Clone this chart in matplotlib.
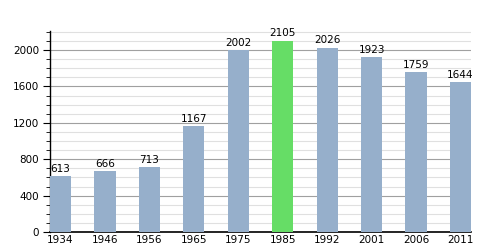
import matplotlib
matplotlib.use("Agg")
import matplotlib.pyplot as plt
from matplotlib.ticker import MultipleLocator

years = ['1934', '1946', '1956', '1965', '1975', '1985', '1992', '2001', '2006', '2011']
population = [613, 666, 713, 1167, 2002, 2105, 2026, 1923, 1759, 1644]
highlight = '1985'

blue = '#96afcb'
green = '#66dd66'
colors = [green if y == highlight else blue for y in years]

fig = plt.figure(figsize=(5, 2.5), dpi=100)
ax = fig.add_axes([0.1, 0.072, 0.842, 0.804])

pos = list(range(len(years)))
w = 0.475
bars = ax.bar(pos, population, width=w, align='edge', color=colors, zorder=3)

for b, v in zip(bars, population):
    ax.text(b.get_x() + b.get_width() / 2, v + 25, str(v),
            ha='center', va='bottom', fontsize=7.5, zorder=4)

ax.set_xlim(0, len(years) - 1 + w)
ax.set_ylim(0, 2210)
ax.set_xticks([p + w / 2 for p in pos])
ax.set_xticklabels(years)

ax.yaxis.set_major_locator(MultipleLocator(400))
ax.yaxis.set_minor_locator(MultipleLocator(100))
ax.grid(axis='y', which='major', color='#a0a0a0', linewidth=0.8, zorder=1)
ax.grid(axis='y', which='minor', color='#e0e0e0', linewidth=0.8, zorder=0)

for s in ['top', 'right']:
    ax.spines[s].set_visible(False)
ax.spines['left'].set_linewidth(1.0)
ax.spines['bottom'].set_linewidth(1.2)

ax.tick_params(axis='x', length=0, labelsize=7.5, pad=2)
ax.tick_params(axis='y', which='major', length=5, labelsize=7.5, pad=3)
ax.tick_params(axis='y', which='minor', length=3)

fig.savefig('out.png', dpi=100)
